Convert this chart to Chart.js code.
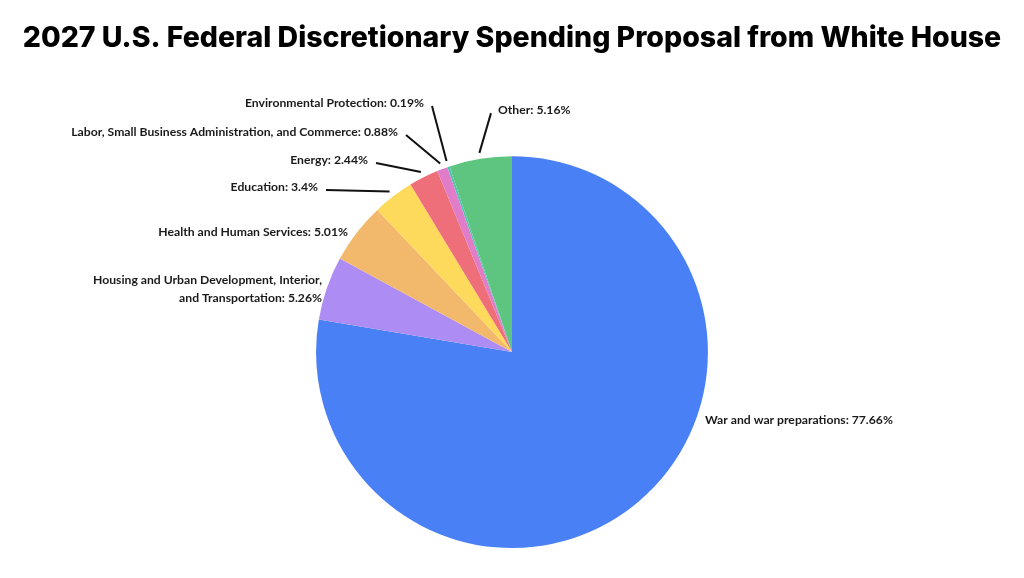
<!DOCTYPE html>
<html>
<head>
<meta charset="utf-8">
<script src="https://cdn.jsdelivr.net/npm/chart.js@4/dist/chart.umd.min.js"></script>
<style>
  html, body { margin: 0; padding: 0; background: #fff; }
  #wrap { width: 1024px; height: 578px; }
</style>
</head>
<body>
<div id="wrap"><canvas id="pieChart"></canvas></div>
<script>
// data
const categories = [
  'War and war preparations',
  'Housing and Urban Development, Interior, and Transportation',
  'Health and Human Services',
  'Education',
  'Energy',
  'Labor, Small Business Administration, and Commerce',
  'Environmental Protection',
  'Other'
];
const shares = [77.66, 5.26, 5.01, 3.4, 2.44, 0.88, 0.19, 5.16];
const sliceColors = ['#4a80f5', '#ad8cf4', '#f2b96d', '#fdd95c', '#ee6e79', '#e17dc8', '#52c3b3', '#5dc57f'];

// label text lines (some wrapped) and where the text sits, relative to pie centre
const labelLines = [
  ['War and war preparations: 77.66%'],
  ['Housing and Urban Development, Interior,', 'and Transportation: 5.26%'],
  ['Health and Human Services: 5.01%'],
  ['Education: 3.4%'],
  ['Energy: 2.44%'],
  ['Labor, Small Business Administration, and Commerce: 0.88%'],
  ['Environmental Protection: 0.19%'],
  ['Other: 5.16%']
];
const labelPos = [
  { dx: 193, dy: 68, align: 'left', line: false },
  { dx: -190, dy: -72, align: 'right', line: false },
  { dx: -164, dy: -120, align: 'right', line: false },
  { dx: -194, dy: -165, align: 'right', line: true },
  { dx: -144, dy: -192, align: 'right', line: true },
  { dx: -114, dy: -220, align: 'right', line: true },
  { dx: -88, dy: -249, align: 'right', line: true },
  { dx: -14, dy: -242, align: 'left', line: true }
];

const outsideLabels = {
  id: 'outsideLabels',
  afterDatasetsDraw(chart) {
    const ctx = chart.ctx;
    const arcs = chart.getDatasetMeta(0).data;
    ctx.save();
    ctx.font = 'bold 12.2px Lato';
    ctx.fillStyle = '#1a1a1a';
    ctx.strokeStyle = '#111';
    ctx.lineWidth = 2;
    ctx.textBaseline = 'middle';
    arcs.forEach((arc, i) => {
      const p = labelPos[i];
      const cx = arc.x, cy = arc.y, r = arc.outerRadius;
      const tx = cx + p.dx, ty = cy + p.dy;
      if (p.line) {
        const mid = (arc.startAngle + arc.endAngle) / 2;
        const sx = cx + Math.cos(mid) * (r + 6);
        const sy = cy + Math.sin(mid) * (r + 6);
        const ex = p.align === 'right' ? tx + 8 : tx - 7;
        const ey = ty + 3;
        ctx.beginPath();
        ctx.moveTo(sx, sy);
        ctx.lineTo(ex, ey);
        ctx.stroke();
      }
      ctx.textAlign = p.align;
      labelLines[i].forEach((t, k) => {
        ctx.fillText(t, tx, ty + k * 18);
      });
    });
    ctx.restore();
  }
};

new Chart(document.getElementById('pieChart'), {
  type: 'pie',
  data: {
    labels: categories,
    datasets: [{
      data: shares,
      backgroundColor: sliceColors,
      borderWidth: 0
    }]
  },
  options: {
    responsive: true,
    maintainAspectRatio: false,
    animation: false,
    layout: { padding: { bottom: 30 } },
    plugins: {
      legend: { display: false },
      tooltip: { enabled: false },
      title: {
        display: true,
        text: '2027 U.S. Federal Discretionary Spending Proposal from White House',
        color: '#000',
        font: { family: 'Inter', size: 28.5, weight: '800', lineHeight: 1.2 },
        padding: { top: 21, bottom: 101 }
      }
    }
  },
  plugins: [outsideLabels]
});
</script>
</body>
</html>
